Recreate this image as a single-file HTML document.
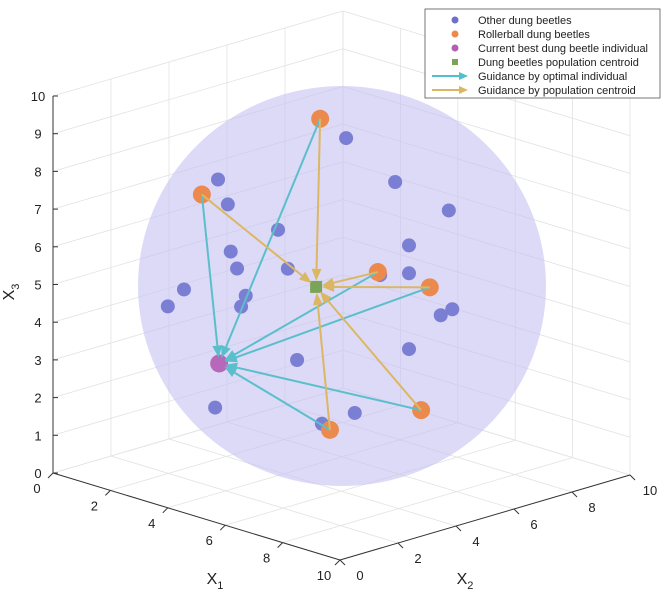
<!DOCTYPE html>
<html><head><meta charset="utf-8"><style>
body{margin:0;background:#fff}
svg{display:block;font-family:"Liberation Sans",sans-serif}
</style></head><body>
<svg id="chart" width="663" height="598" viewBox="0 0 663 598">
<g id="grid"></g>
<ellipse id="sphere" cx="342" cy="286" rx="204" ry="200" fill="#c4c1f2" fill-opacity="0.6"/>
<g id="axes"></g>
<g id="marks"></g>
<g>
<rect x="425" y="9" width="235" height="89" fill="#fff" stroke="#555" stroke-width="0.8"/>
<g font-size="11" fill="#222">
<circle cx="455" cy="20" r="3.5" fill="#6e6fc8"/>
<text x="478" y="24">Other dung beetles</text>
<circle cx="455" cy="34" r="3.5" fill="#ec8a4e"/>
<text x="478" y="38">Rollerball dung beetles</text>
<circle cx="455" cy="48" r="3.5" fill="#b25fae"/>
<text x="478" y="52">Current best dung beetle individual</text>
<rect x="452" y="59" width="6" height="6" fill="#7aa457"/>
<text x="478" y="66">Dung beetles population centroid</text>
<line x1="432" y1="76" x2="462" y2="76" stroke="#4fc0cc" stroke-width="2"/>
<polygon points="468,76 459,72 459,80" fill="#4fc0cc"/>
<text x="478" y="80">Guidance by optimal individual</text>
<line x1="432" y1="90" x2="462" y2="90" stroke="#dcb763" stroke-width="2"/>
<polygon points="468,90 459,86 459,94" fill="#dcb763"/>
<text x="478" y="94">Guidance by population centroid</text>
</g></g>
</svg>
<script>
const otherX1=[5.08,5.93,6.86,2.86,3.03,3.90,3.08,3.19,6.17,6.17,5.67,4.07,2.27,1.99,3.34,3.26,6.72,6.92,4.23,6.17,2.81,5.23,4.66];
const otherX2=[5.08,5.93,6.86,2.86,3.03,3.90,3.08,3.19,6.17,6.17,5.67,4.07,2.27,1.99,3.34,3.26,6.72,6.92,4.23,6.17,2.81,5.23,4.66];
const otherX3=[8.91,7.75,7.00,7.80,7.14,6.47,5.89,5.44,6.07,5.33,5.28,5.44,4.88,4.43,4.72,4.43,4.22,4.38,3.02,3.32,1.75,1.62,1.33];
const rollX1=[4.63,2.58,5.63,6.53,6.38,4.80];
const rollX2=[4.63,2.58,5.63,6.53,6.38,4.80];
const rollX3=[9.42,7.40,5.36,4.96,1.70,1.17];
const bestPt=[2.88,2.88,2.92];
const centroidPt=[4.56,4.56,4.96];
const x1Ticks=[0,2,4,6,8,10];
const x2Ticks=[0,2,4,6,8,10];
const x3Ticks=[0,1,2,3,4,5,6,7,8,9,10];

const NS="http://www.w3.org/2000/svg";
function P(a,b,c){return [53+28.7*a+29*b, 473+8.7*a-8.5*b-37.7*c];}
function mk(parent,tag,attrs){const e=document.createElementNS(NS,tag);for(const k in attrs)e.setAttribute(k,attrs[k]);parent.appendChild(e);return e;}
const grid=document.getElementById('grid'),axes=document.getElementById('axes'),marks=document.getElementById('marks');
function gl(p,q){const l=mk(grid,'line',{x1:p[0],y1:p[1],x2:q[0],y2:q[1],stroke:'#e2e2e2','stroke-width':0.8});

}
x1Ticks.forEach(t=>gl(P(t,0,0),P(t,10,0)));
x2Ticks.forEach(t=>gl(P(0,t,0),P(10,t,0)));
x2Ticks.forEach(t=>gl(P(0,t,0),P(0,t,10)));
x3Ticks.forEach(t=>gl(P(0,0,t),P(0,10,t)));
x1Ticks.forEach(t=>gl(P(t,10,0),P(t,10,10)));
x3Ticks.forEach(t=>gl(P(0,10,t),P(10,10,t)));
function al(p,q,name){const l=mk(axes,'line',{x1:p[0],y1:p[1],x2:q[0],y2:q[1],stroke:'#333','stroke-width':1});

}
al(P(0,0,0),P(0,0,10),'x3-axis');al(P(0,0,0),P(10,0,0),'x1-axis');al(P(10,0,0),P(10,10,0),'x2-axis');
function tx(x,y,s,name,size){const t=mk(axes,'text',{x:x,y:y,'font-size':size||13,fill:'#222','text-anchor':'middle'});t.textContent=s;

return t;}
x3Ticks.forEach(t=>{const p=P(0,0,t);al(p,[p[0]+5,p[1]],'x3-tick');tx(p[0]-15,p[1]+5,t,'x3-tick-label');});
x1Ticks.forEach(t=>{const p=P(t,0,0);al(p,[p[0]-5,p[1]+5],'x1-tick');tx(p[0]-16,p[1]+20,t,'x1-tick-label');});
x2Ticks.forEach(t=>{const p=P(10,t,0);al(p,[p[0]+5,p[1]+5],'x2-tick');tx(p[0]+20,p[1]+20,t,'x2-tick-label');});
const l1=tx(215,584,'X','x1-axis-title',16);const s1=mk(l1,'tspan',{dy:5,'font-size':11});s1.textContent='1';
const l2=tx(465,584,'X','x2-axis-title',16);const s2=mk(l2,'tspan',{dy:5,'font-size':11});s2.textContent='2';
const l3=tx(14,292,'X','x3-axis-title',16);l3.setAttribute('transform','rotate(-90 14 292)');const s3=mk(l3,'tspan',{dy:5,'font-size':11});s3.textContent='3';

function arrow(from,to,color,name){const a=P(...from),b=P(...to);const dx=b[0]-a[0],dy=b[1]-a[1],L=Math.hypot(dx,dy),ux=dx/L,uy=dy/L;
const e=[b[0]-ux*6,b[1]-uy*6],h=[e[0]-ux*12,e[1]-uy*12];
const g=mk(marks,'g',{});


mk(g,'line',{x1:a[0],y1:a[1],x2:h[0],y2:h[1],stroke:color,'stroke-width':2});
mk(g,'polygon',{points:`${e[0]},${e[1]} ${h[0]-uy*5},${h[1]+ux*5} ${h[0]+uy*5},${h[1]-ux*5}`,fill:color});}
function dot(p,r,color,name){const q=P(...p);const c=mk(marks,'circle',{cx:q[0],cy:q[1],r:r,fill:color});

}
otherX1.forEach((v,i)=>dot([v,otherX2[i],otherX3[i]],7,'#7b7fd3','other-beetle'));
rollX1.forEach((v,i)=>dot([v,rollX2[i],rollX3[i]],9,'#ec8a4e','rollerball-beetle'));
dot(bestPt,9,'#b868b8','best-beetle');
const cp=P(...centroidPt);const sq=mk(marks,'rect',{x:cp[0]-6,y:cp[1]-6,width:12,height:12,fill:'#7aa457'});


rollX1.forEach((v,i)=>arrow([v,rollX2[i],rollX3[i]],bestPt,'#5bbfcb','optimal-guidance-arrow'));
rollX1.forEach((v,i)=>arrow([v,rollX2[i],rollX3[i]],centroidPt,'#dcb763','centroid-guidance-arrow'));
</script>
</body></html>
